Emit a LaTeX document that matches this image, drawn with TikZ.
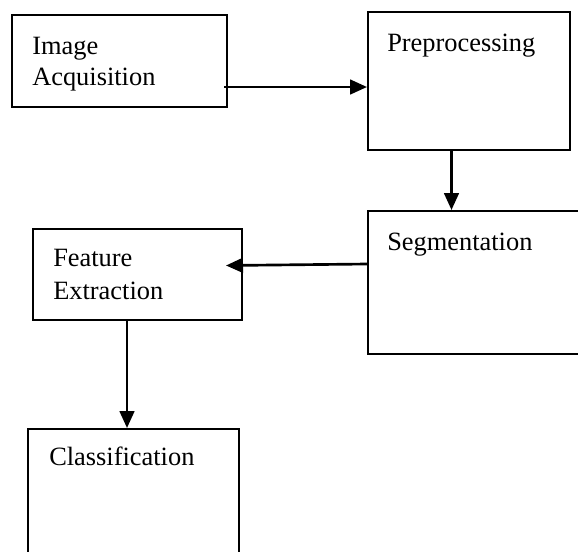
\documentclass[tikz,border=0pt]{standalone}
\usepackage{fontspec}
\setmainfont{Liberation Serif}
\usetikzlibrary{arrows.meta}
\begin{document}
\begin{tikzpicture}[x=0.75pt,y=-0.75pt,
  box/.style={draw=black,line width=1.2pt,rectangle,anchor=north west,inner sep=0pt},
  lbl/.style={anchor=base west,inner sep=0pt,align=left,font=\fontsize{19.8}{23.25}\selectfont},
  arr/.style={line width=2pt,-{Triangle[length=12.75pt,width=11pt]}}]
\useasboundingbox (0,0) rectangle (578,551);
\node[box,minimum width=161.25pt,minimum height=69pt] (ia) at (11,14) {};
\node[box,minimum width=151.5pt,minimum height=103.5pt] (pp) at (367,11) {};
\node[box,minimum width=165pt,minimum height=107.25pt] (sg) at (367,210) {};
\node[box,minimum width=156.75pt,minimum height=68.25pt] (fe) at (32,228) {};
\node[box,minimum width=158.25pt,minimum height=105pt] (cl) at (27,428) {};
\node[lbl] (tia1) at (32,54.5) {Image};
\node[lbl] (tia2) at (32,85.5) {Acquisition};
\node[lbl] (tpp) at (387,51.6) {Preprocessing};
\node[lbl] (tsg) at (387,250) {Segmentation};
\node[lbl] (tfe1) at (53,266.6) {Feature};
\node[lbl] (tfe2) at (53,299.8) {Extraction};
\node[lbl] (tcl) at (49,465) {Classification};
\coordinate (a1s) at (224,87);
\coordinate (a2s) at (451.5,149);
\coordinate (a3s) at (367,264);
\coordinate (a3e) at (226,265.5);
\coordinate (a4s) at (127,319);
\draw[arr] (a1s) -- (pp.west |- a1s);
\draw[arr] (a2s) -- (sg.north -| a2s);
\draw[arr] (a3s) -- (a3e);
\draw[arr] (a4s) -- (cl.north -| a4s);
\end{tikzpicture}
\end{document}
